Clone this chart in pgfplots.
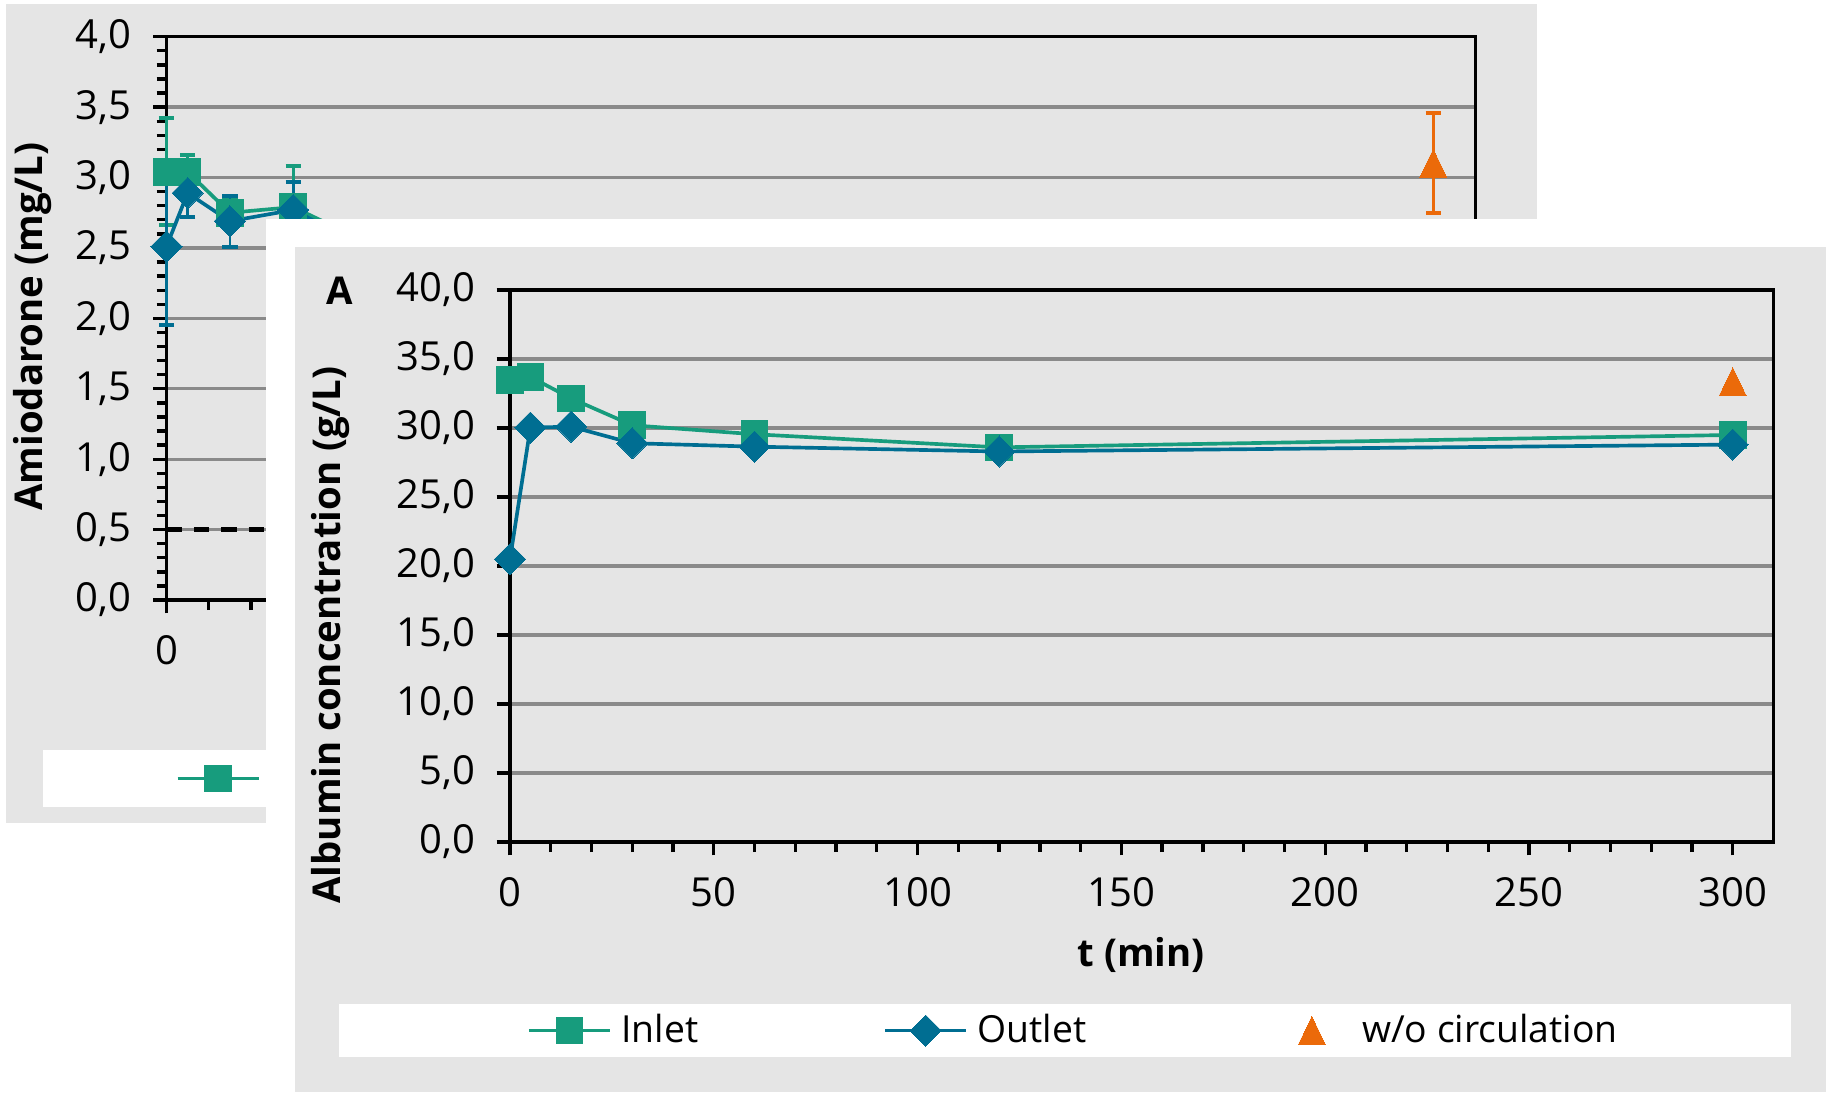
\documentclass[border=0pt]{standalone}
\usepackage{pgfplots}
\pgfplotsset{compat=1.18}
\usepackage{fontspec}
\setmainfont{Open Sans}
\definecolor{bggray}{HTML}{E5E5E5}
\definecolor{gridgray}{HTML}{8A8A8A}
\definecolor{inlet}{HTML}{179C7D}
\definecolor{outlet}{HTML}{006E92}
\definecolor{woc}{HTML}{EB6A0A}
\newcommand{\fs}{\fontsize{11.5}{13}\selectfont}
\newcommand{\fst}{\fontsize{12}{13.5}\selectfont}
\newcommand{\fsl}{\fontsize{11.2}{13}\selectfont}
\pgfplotsset{
  mystyle/.style={
    scale only axis,
    clip=false,
    xmin=0, xmax=310,
    font=\fs,
    tick label style={font=\fst},
    /pgf/number format/assume math mode=true,
    axis line style={line width=1pt, black},
    tick align=outside,
    tick pos=left,
    major tick length=4pt,
    minor tick length=3pt,
    tick style={black, line width=1pt},
    ymajorgrids,
    major grid style={line width=1pt, gridgray},
    xtick={0,50,...,300},
    minor x tick num=4,
    xticklabel style={yshift=-3pt, /pgf/number format/fixed, /pgf/number format/precision=0},
    yticklabel style={xshift=-3pt, /pgf/number format/fixed, /pgf/number format/fixed zerofill, /pgf/number format/precision=1, /pgf/number format/use comma},
    legend columns=3,
    legend image code/.code={\draw[mark repeat=2,mark phase=2,##1] plot coordinates {(0pt,0pt) (12.15pt,0pt) (24.3pt,0pt)};},
    legend style={draw=none, fill=none, inner sep=0pt, anchor=west, font=\fsl,
      nodes={inner xsep=0pt},
      /tikz/every odd column/.append style={column sep=2.9pt},
      /tikz/every even column/.append style={column sep=55.5pt}},
  },
  inletstyle/.style={color=inlet, line width=1.1pt, mark=square*, mark size=4pt, mark options={solid, line width=0pt, fill=inlet, draw=inlet}},
  outletstyle/.style={color=outlet, line width=1.1pt, mark=square*, mark size=3.3pt, mark options={solid, rotate=45, line width=0pt, fill=outlet, draw=outlet}},
  wocstyle/.style={color=woc, draw=none, mark=triangle*, mark size=4.7pt, mark options={solid, yshift=-1.4pt, yscale=1.2, line width=0pt, fill=woc, draw=woc},
    legend image code/.code={\path[mark repeat=2,mark phase=2,##1] plot coordinates {(0pt,0pt) (12.15pt,0pt) (24.3pt,0pt)};}},
}
\pgfplotstableread{
t c e
0 3.04 0.38
5 3.04 0.12
15 2.75 0.11
30 2.79 0.29
60 2.36 0.20
120 2.25 0.20
300 2.30 0.20
}\backinlet
\pgfplotstableread{
t c e
0 2.51 0.56
5 2.89 0.17
15 2.69 0.18
30 2.77 0.20
60 2.30 0.20
120 2.20 0.20
300 2.25 0.20
}\backoutlet
\pgfplotstableread{
t c e
300 3.10 0.355
}\backwoc
\pgfplotstableread{
t c
0 33.5
5 33.7
15 32.15
30 30.2
60 29.55
120 28.6
300 29.5
}\frontinlet
\pgfplotstableread{
t c
0 20.5
5 30.03
15 30.1
30 28.9
60 28.65
120 28.3
300 28.8
}\frontoutlet
\pgfplotstableread{
t c
300 33.35
}\frontwoc
\begin{document}
\begin{tikzpicture}
\useasboundingbox (0pt,0pt) rectangle (547.8pt,-327.6pt);
\fill[white] (0pt,0pt) rectangle (547.8pt,-327.6pt);
% back panel
\fill[bggray] (1.74pt,-1.05pt) rectangle (461.1pt,-246.9pt);
\fill[white] (12.9pt,-225.1pt) rectangle (450pt,-242pt);
\begin{axis}[mystyle, at={(49.95pt,-180pt)}, anchor=south west, width=392.7pt, height=169pt,
  ymin=0, ymax=4, ytick={0,0.5,...,4}, minor y tick num=4,
  legend style={at={(0.0065,-0.3166)}}]
\addplot[black, line width=1.3pt, dash pattern=on 4.6pt off 3.6pt, forget plot] coordinates {(0,0.5) (310,0.5)};
\addplot[inletstyle, error bars/.cd, y dir=both, y explicit, error bar style={line width=0.8pt, solid, inlet}, error mark options={rotate=90, mark size=2.3pt, line width=1.2pt, inlet}] table[x=t, y=c, y error=e] {\backinlet};
\addlegendentry{Inlet}
\addplot[outletstyle, error bars/.cd, y dir=both, y explicit, error bar style={line width=0.8pt, solid, outlet}, error mark options={rotate=90, mark size=2.3pt, line width=1.2pt, outlet}] table[x=t, y=c, y error=e] {\backoutlet};
\addlegendentry{Outlet}
\addplot[wocstyle, error bars/.cd, y dir=both, y explicit, error bar style={line width=0.8pt, solid, draw=woc}, error mark options={rotate=90, mark size=2.3pt, line width=1.2pt, draw=woc}] table[x=t, y=c, y error=e] {\backwoc};
\addlegendentry{w/o circulation}
\end{axis}
\node[rotate=90, font=\bfseries\fs] at (9.78pt,-98pt) {Amiodarone (mg/L)};
% front panel
\fill[white] (79.65pt,-65.7pt) rectangle (547.8pt,-327.6pt);
\fill[bggray] (88.4pt,-74.1pt) rectangle (547.8pt,-327.6pt);
\fill[white] (101.7pt,-301.2pt) rectangle (537.3pt,-317.1pt);
\begin{axis}[mystyle, at={(153pt,-252.6pt)}, anchor=south west, width=379.05pt, height=165.6pt,
  ymin=0, ymax=40, ytick={0,5,...,40},
  legend style={at={(0.013,-0.3417)}}]
\addplot[inletstyle] table[x=t, y=c] {\frontinlet};
\addlegendentry{Inlet}
\addplot[outletstyle] table[x=t, y=c] {\frontoutlet};
\addlegendentry{Outlet}
\addplot[wocstyle] table[x=t, y=c] {\frontwoc};
\addlegendentry{w/o circulation}
\end{axis}
\node[rotate=90, font=\bfseries\fs] at (99.2pt,-190.5pt) {Albumin concentration (g/L)};
\node[font=\bfseries\fs] at (342.3pt,-286.5pt) {t (min)};
\node[font=\bfseries\fs] at (102pt,-87.3pt) {A};
\end{tikzpicture}
\end{document}
